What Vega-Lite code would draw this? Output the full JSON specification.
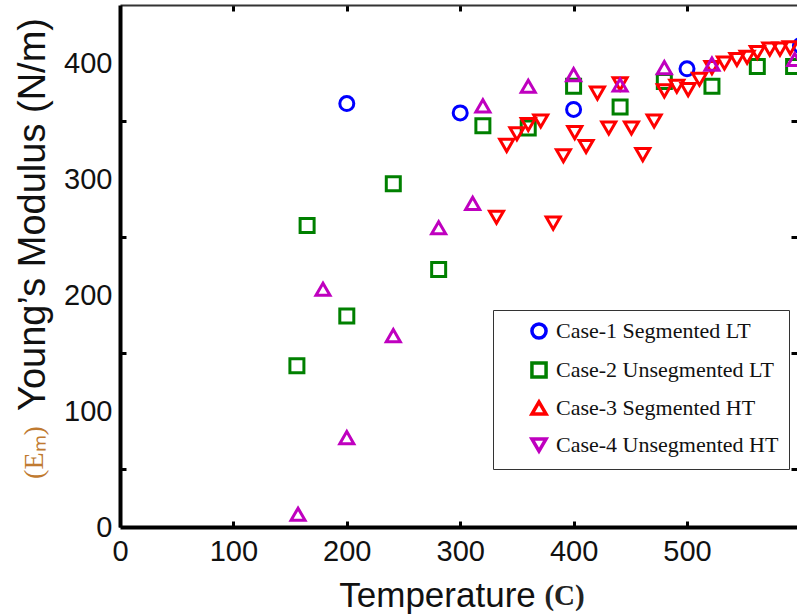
{
  "$schema": "https://vega.github.io/schema/vega-lite/v6.json",
  "width": 677,
  "height": 522,
  "autosize": "none",
  "padding": {"left": 120, "top": 5, "right": 0, "bottom": 89},
  "background": "white",
  "config": {
    "view": {"stroke": null},
    "axis": {"grid": false, "labelFont": "Liberation Sans", "titleFont": "Liberation Sans", "labelColor": "#111", "titleColor": "#111", "domainColor": "black", "tickColor": "black", "titleFontWeight": "normal"}
  },
  "data": {
    "values": [
      {"case": "Case-1 Segmented LT", "T": 200, "E": 365},
      {"case": "Case-1 Segmented LT", "T": 300, "E": 357},
      {"case": "Case-1 Segmented LT", "T": 400, "E": 360},
      {"case": "Case-1 Segmented LT", "T": 500, "E": 395},
      {"case": "Case-1 Segmented LT", "T": 600, "E": 415},
      {"case": "Case-2 Unsegmented LT", "T": 156, "E": 139},
      {"case": "Case-2 Unsegmented LT", "T": 165, "E": 260},
      {"case": "Case-2 Unsegmented LT", "T": 200, "E": 182},
      {"case": "Case-2 Unsegmented LT", "T": 241, "E": 296},
      {"case": "Case-2 Unsegmented LT", "T": 281, "E": 222},
      {"case": "Case-2 Unsegmented LT", "T": 320, "E": 346},
      {"case": "Case-2 Unsegmented LT", "T": 360, "E": 344},
      {"case": "Case-2 Unsegmented LT", "T": 400, "E": 380},
      {"case": "Case-2 Unsegmented LT", "T": 441, "E": 362},
      {"case": "Case-2 Unsegmented LT", "T": 480, "E": 384},
      {"case": "Case-2 Unsegmented LT", "T": 522, "E": 380},
      {"case": "Case-2 Unsegmented LT", "T": 562, "E": 397},
      {"case": "Case-2 Unsegmented LT", "T": 594, "E": 397},
      {"case": "Case-3 Segmented HT", "T": 332, "E": 267},
      {"case": "Case-3 Segmented HT", "T": 341, "E": 329},
      {"case": "Case-3 Segmented HT", "T": 350, "E": 339},
      {"case": "Case-3 Segmented HT", "T": 360, "E": 347},
      {"case": "Case-3 Segmented HT", "T": 371, "E": 350},
      {"case": "Case-3 Segmented HT", "T": 382, "E": 262},
      {"case": "Case-3 Segmented HT", "T": 391, "E": 320},
      {"case": "Case-3 Segmented HT", "T": 401, "E": 340},
      {"case": "Case-3 Segmented HT", "T": 411, "E": 328},
      {"case": "Case-3 Segmented HT", "T": 421, "E": 374},
      {"case": "Case-3 Segmented HT", "T": 431, "E": 344},
      {"case": "Case-3 Segmented HT", "T": 441, "E": 382},
      {"case": "Case-3 Segmented HT", "T": 451, "E": 344},
      {"case": "Case-3 Segmented HT", "T": 461, "E": 321},
      {"case": "Case-3 Segmented HT", "T": 471, "E": 350},
      {"case": "Case-3 Segmented HT", "T": 480, "E": 376},
      {"case": "Case-3 Segmented HT", "T": 491, "E": 380},
      {"case": "Case-3 Segmented HT", "T": 501, "E": 377},
      {"case": "Case-3 Segmented HT", "T": 511, "E": 386},
      {"case": "Case-3 Segmented HT", "T": 522, "E": 396},
      {"case": "Case-3 Segmented HT", "T": 533, "E": 400},
      {"case": "Case-3 Segmented HT", "T": 544, "E": 403},
      {"case": "Case-3 Segmented HT", "T": 553, "E": 405},
      {"case": "Case-3 Segmented HT", "T": 562, "E": 409},
      {"case": "Case-3 Segmented HT", "T": 573, "E": 412},
      {"case": "Case-3 Segmented HT", "T": 582, "E": 412},
      {"case": "Case-3 Segmented HT", "T": 591, "E": 413},
      {"case": "Case-4 Unsegmented HT", "T": 157, "E": 11},
      {"case": "Case-4 Unsegmented HT", "T": 179, "E": 205},
      {"case": "Case-4 Unsegmented HT", "T": 200, "E": 77},
      {"case": "Case-4 Unsegmented HT", "T": 241, "E": 165},
      {"case": "Case-4 Unsegmented HT", "T": 281, "E": 258},
      {"case": "Case-4 Unsegmented HT", "T": 311, "E": 279},
      {"case": "Case-4 Unsegmented HT", "T": 320, "E": 363},
      {"case": "Case-4 Unsegmented HT", "T": 360, "E": 380},
      {"case": "Case-4 Unsegmented HT", "T": 400, "E": 390},
      {"case": "Case-4 Unsegmented HT", "T": 441, "E": 381},
      {"case": "Case-4 Unsegmented HT", "T": 480, "E": 396},
      {"case": "Case-4 Unsegmented HT", "T": 522, "E": 399},
      {"case": "Case-4 Unsegmented HT", "T": 595, "E": 403}
    ]
  },
  "layer": [
    {
      "mark": {"type": "point", "filled": false, "strokeWidth": 3, "opacity": 1},
      "encoding": {
        "x": {
          "field": "T", "type": "quantitative",
          "scale": {"domain": [0, 597], "nice": false, "zero": false},
          "axis": {
            "orient": "bottom", "values": [0, 100, 200, 300, 400, 500],
            "tickSize": -6, "tickWidth": 3, "domainWidth": 4, "labelPadding": 16,
            "labelFontSize": 29, "labelFlush": false,
            "title": "Temperature", "titleFontSize": 35,
            "titleX": 317, "titleY": 68, "titleAlign": "center", "titleBaseline": "middle"
          }
        },
        "y": {
          "field": "E", "type": "quantitative",
          "scale": {"domain": [0, 450], "nice": false},
          "axis": {
            "orient": "left", "values": [0, 50, 100, 150, 200, 250, 300, 350, 400],
            "labelExpr": "datum.value % 100 === 0 ? datum.label : ''",
            "tickColor": {"condition": {"test": "datum.value % 100 === 0", "value": "transparent"}, "value": "black"},
            "tickSize": -6, "tickWidth": 3, "domainWidth": 4, "labelPadding": 14,
            "labelFontSize": 29, "labelFlush": false,
            "title": "Young’s Modulus (N/m)", "titleFontSize": 38,
            "titleX": -87, "titleY": 209, "titleAngle": 270, "titleAlign": "center", "titleBaseline": "middle"
          }
        },
        "color": {
          "field": "case", "type": "nominal",
          "scale": {"domain": ["Case-1 Segmented LT", "Case-2 Unsegmented LT", "Case-3 Segmented HT", "Case-4 Unsegmented HT"], "range": ["#0000ff", "#008000", "#ff0000", "#bf00bf"]},
          "legend": null
        },
        "shape": {
          "field": "case", "type": "nominal",
          "scale": {"domain": ["Case-1 Segmented LT", "Case-2 Unsegmented LT", "Case-3 Segmented HT", "Case-4 Unsegmented HT"], "range": ["circle", "square", "triangle-down", "triangle-up"]},
          "legend": null
        },
        "size": {
          "field": "case", "type": "nominal",
          "scale": {"domain": ["Case-1 Segmented LT", "Case-2 Unsegmented LT", "Case-3 Segmented HT", "Case-4 Unsegmented HT"], "range": [196, 196, 300, 300]},
          "legend": null
        }
      }
    },
    {
      "mark": {"type": "point", "opacity": 0},
      "encoding": {
        "x": {
          "field": "T", "type": "quantitative",
          "axis": {
            "orient": "top", "values": [100, 200, 300, 400, 500], "labels": false,
            "tickSize": -6, "tickWidth": 3, "domainWidth": 2, "domainColor": "#333",
            "title": "(C)", "titleFont": "Liberation Serif", "titleFontSize": 29, "titleFontWeight": "bold", "titleColor": "#222",
            "titleX": 444, "titleY": 590, "titleAlign": "center", "titleBaseline": "middle"
          }
        },
        "y": {
          "field": "E", "type": "quantitative",
          "axis": {
            "orient": "right", "values": [50, 150, 250, 350], "labels": false, "domain": false,
            "tickSize": -6, "tickWidth": 3,
            "title": "(Eₘ)", "titleFont": "Liberation Serif", "titleFontSize": 28, "titleColor": "#c07a30",
            "titleX": -763, "titleY": 447, "titleAngle": 270, "titleAlign": "center", "titleBaseline": "middle"
          }
        }
      }
    },
    {
      "mark": {"type": "point", "filled": false, "opacity": 0},
      "encoding": {
        "x": {"field": "T", "type": "quantitative", "axis": null},
        "y": {"field": "E", "type": "quantitative", "axis": null},
        "color": {
          "field": "case", "type": "nominal",
          "scale": {"domain": ["Case-1 Segmented LT", "Case-2 Unsegmented LT", "Case-3 Segmented HT", "Case-4 Unsegmented HT"], "range": ["#0000ff", "#008000", "#ff0000", "#bf00bf"]},
          "legend": {
            "orient": "none", "legendX": 373, "legendY": 305, "title": null,
            "strokeColor": "#333", "fillColor": "white", "padding": 10,
            "labelFont": "Liberation Serif", "labelFontSize": 22, "labelColor": "#111", "labelLimit": 500,
            "symbolSize": 200, "symbolStrokeWidth": 3.5, "symbolOffset": 25, "labelOffset": 6,
            "symbolOpacity": 1, "rowPadding": 9
          }
        },
        "shape": {
          "field": "case", "type": "nominal",
          "scale": {"domain": ["Case-1 Segmented LT", "Case-2 Unsegmented LT", "Case-3 Segmented HT", "Case-4 Unsegmented HT"], "range": ["circle", "square", "triangle-up", "triangle-down"]},
          "legend": {
            "orient": "none", "legendX": 373, "legendY": 305, "title": null,
            "strokeColor": "#333", "fillColor": "white", "padding": 10,
            "labelFont": "Liberation Serif", "labelFontSize": 22, "labelColor": "#111", "labelLimit": 500,
            "symbolSize": 200, "symbolStrokeWidth": 3.5, "symbolOffset": 25, "labelOffset": 6,
            "symbolOpacity": 1, "rowPadding": 9
          }
        }
      }
    }
  ],
  "resolve": {
    "axis": {"x": "independent", "y": "independent"},
    "scale": {"color": "independent", "shape": "independent", "size": "independent"}
  }
}
